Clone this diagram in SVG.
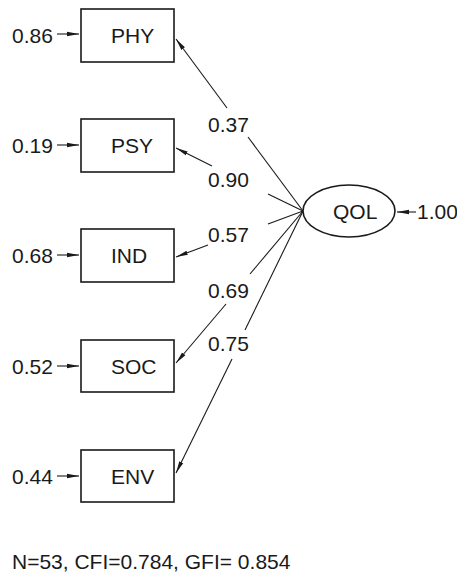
<svg xmlns="http://www.w3.org/2000/svg" width="457" height="575" viewBox="0 0 457 575">
<defs>
<marker id="ah" viewBox="0 0 12 6" refX="12" refY="3" markerWidth="12" markerHeight="6" markerUnits="userSpaceOnUse" orient="auto">
<path d="M0,0.8 L12,3 L0,5.2 Z" fill="#1a1a1a"/>
</marker>
<style>
.box{fill:#fff;stroke:#1a1a1a;stroke-width:1.6}
.t{font-family:"Liberation Sans",Arial,sans-serif;font-size:21px;fill:#1a1a1a}
.c{stroke:#1a1a1a;stroke-width:1.1;fill:none}
.a{marker-end:url(#ah)}
</style>
</defs>
<g id="connectors">
<line class="c" x1="303" y1="211" x2="248" y2="137"/>
<line class="c a" x1="227" y1="108" x2="176" y2="39"/>
<line class="c" x1="303" y1="211" x2="268" y2="194"/>
<line class="c a" x1="212" y1="166" x2="176" y2="148"/>
<line class="c" x1="303" y1="211" x2="268" y2="224"/>
<line class="c a" x1="208" y1="245" x2="176" y2="257"/>
<line class="c" x1="303" y1="211" x2="250" y2="274"/>
<line class="c a" x1="226" y1="304" x2="176" y2="363"/>
<line class="c" x1="303" y1="211" x2="245" y2="330"/>
<line class="c a" x1="232" y1="359" x2="176" y2="473"/>
<line class="c a" x1="57" y1="34" x2="79" y2="34"/>
<line class="c a" x1="57" y1="145" x2="79" y2="145"/>
<line class="c a" x1="57" y1="255" x2="79" y2="255"/>
<line class="c a" x1="57" y1="366" x2="79" y2="366"/>
<line class="c a" x1="57" y1="476" x2="79" y2="476"/>
<line class="c a" x1="416" y1="212" x2="397" y2="212"/>
</g>
<g id="labels">
<text class="t" x="208" y="132">0.37</text>
<text class="t" x="208" y="187">0.90</text>
<text class="t" x="208" y="242">0.57</text>
<text class="t" x="208" y="298">0.69</text>
<text class="t" x="208" y="351">0.75</text>
</g>
<g id="PHY"><rect class="box" x="81" y="9" width="93" height="53"/><text class="t" x="111" y="43">PHY</text><text class="t" x="12" y="43">0.86</text></g>
<g id="PSY"><rect class="box" x="81" y="119" width="93" height="53"/><text class="t" x="111" y="153">PSY</text><text class="t" x="12" y="153">0.19</text></g>
<g id="IND"><rect class="box" x="81" y="229" width="93" height="53"/><text class="t" x="111" y="263">IND</text><text class="t" x="12" y="263">0.68</text></g>
<g id="SOC"><rect class="box" x="81" y="340" width="93" height="52"/><text class="t" x="111" y="374">SOC</text><text class="t" x="12" y="374">0.52</text></g>
<g id="ENV"><rect class="box" x="81" y="450" width="93" height="52"/><text class="t" x="111" y="484">ENV</text><text class="t" x="12" y="484">0.44</text></g>
<g id="QOL"><ellipse class="box" cx="349" cy="211" rx="46" ry="26"/><text class="t" x="333" y="219">QOL</text><text class="t" x="417" y="219">1.00</text></g>
<text class="t" x="12" y="569">N=53, CFI=0.784, GFI= 0.854</text>
</svg>
